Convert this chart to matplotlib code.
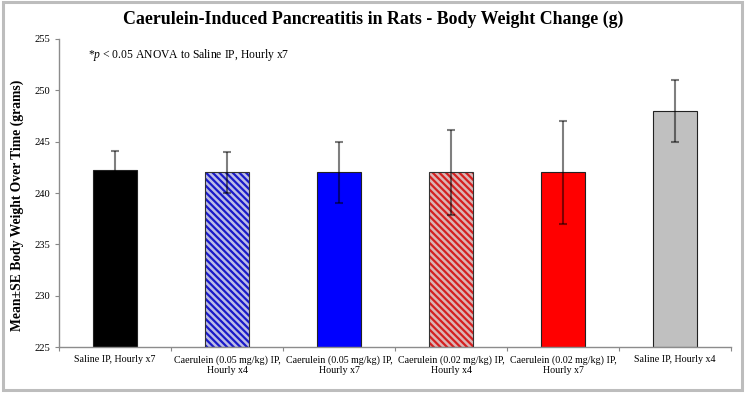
import matplotlib
matplotlib.use("Agg")
import matplotlib.pyplot as plt
from matplotlib.patches import Rectangle
import numpy as np

# --- data ---
groups = [
    "Saline IP, Hourly x7",
    "Caerulein (0.05 mg/kg) IP,\nHourly x4",
    "Caerulein (0.05 mg/kg) IP,\nHourly x7",
    "Caerulein (0.02 mg/kg) IP,\nHourly x4",
    "Caerulein (0.02 mg/kg) IP,\nHourly x7",
    "Saline IP, Hourly x4",
]
mean_wt = [242.2, 242.0, 242.0, 242.0, 242.0, 248.0]
se_wt = [1.9, 2.0, 3.0, 4.1, 5.0, 3.0]
yticks = [225, 230, 235, 240, 245, 250, 255]

# face, hatch colour (None = solid)
faces = ["#000000", "#bcbde6", "#0000ff", "#dcb4b4", "#ff0000", "#c0c0c0"]
hatch_cols = [None, "#1a1ac8", None, "#d42020", None, None]

plt.rcParams["font.family"] = ["Liberation Serif", "DejaVu Serif"]
plt.rcParams["mathtext.fontset"] = "custom"
plt.rcParams["mathtext.it"] = "Liberation Serif:italic"
plt.rcParams["mathtext.rm"] = "Liberation Serif"
plt.rcParams["hatch.linewidth"] = 1.6

fig = plt.figure(figsize=(7.46, 3.93), dpi=100)
ax = fig.add_axes([0.0791, 0.117, 0.9009, 0.7838])

x = np.arange(len(groups))
for i in x:
    if hatch_cols[i]:
        ax.bar(x[i], mean_wt[i] - 225, bottom=225, width=0.4, color=faces[i],
               hatch="\\\\\\\\\\", edgecolor=hatch_cols[i], linewidth=0, zorder=2)
        ax.bar(x[i], mean_wt[i] - 225, bottom=225, width=0.4, fill=False,
               edgecolor="#333333", linewidth=0.8, zorder=3)
    else:
        ax.bar(x[i], mean_wt[i] - 225, bottom=225, width=0.4, color=faces[i],
               edgecolor="#222222", linewidth=0.8, zorder=2)

# translucent black whiskers: grey on white, darker over the bars
ax.errorbar(x, mean_wt, yerr=se_wt, fmt="none", ecolor=(0, 0, 0, 0.5),
            elinewidth=1.5, capsize=3.2, capthick=1.5, zorder=4)

ax.set_xlim(-0.5, len(groups) - 0.5)
ax.set_ylim(225, 255)
ax.set_yticks(yticks)
ax.tick_params(axis="y", labelsize=7.6, length=3, color="#888888", pad=3)

ax.set_xticks(np.arange(-0.5, len(groups), 1.0))
ax.set_xticklabels([])
ax.set_xticks(x, minor=True)
ax.set_xticklabels(groups, minor=True, fontsize=7.2, linespacing=1.1)
ax.tick_params(axis="x", which="major", length=3, color="#888888")
ax.tick_params(axis="x", which="minor", length=0, pad=6)

for s in ["top", "right"]:
    ax.spines[s].set_visible(False)
for s in ["left", "bottom"]:
    ax.spines[s].set_color("#8c8c8c")
    ax.spines[s].set_linewidth(1.0)

ax.set_ylabel("Mean\u00b1SE Body Weight Over Time (grams)", fontsize=9.8,
              fontweight="bold")
ax.yaxis.set_label_coords(-0.052, 0.46)
fig.text(0.5, 0.952, "Caerulein-Induced Pancreatitis in Rats - Body Weight Change (g)",
         ha="center", va="center", fontsize=12.9, fontweight="bold")
fig.text(0.118, 0.86, "*$\\it{p}$ < 0.05 ANOVA to Saline IP, Hourly x7",
         ha="left", va="center", fontsize=8.4)

# light grey frame round the whole chart
fig.patches.append(Rectangle((0.004, 0.008), 0.99, 0.987, transform=fig.transFigure,
                             fill=False, edgecolor="#bdbdbd", linewidth=2.2))

fig.savefig("out.png", dpi=100)
